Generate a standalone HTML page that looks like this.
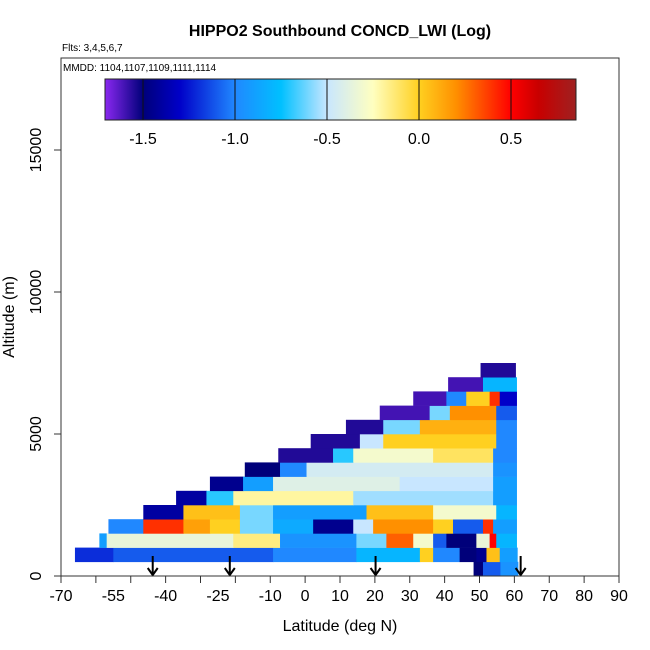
<!DOCTYPE html>
<html><head><meta charset="utf-8"><style>
body{margin:0;background:#fff;}
svg{display:block;font-family:"Liberation Sans",sans-serif;}
</style></head><body>
<svg id="chart" width="650" height="650" viewBox="0 0 650 650">
<defs>
<linearGradient id="cbgrad" x1="0" x2="1" y1="0" y2="0"></linearGradient>
</defs>
<text x="340" y="36" text-anchor="middle" font-size="16" font-weight="bold">HIPPO2 Southbound CONCD_LWI (Log)</text>
<text x="62" y="51" font-size="10">Flts: 3,4,5,6,7</text>
<g id="plot"></g>
<rect x="61" y="58" width="558" height="518" fill="none" stroke="#333" stroke-width="1"/>
<text x="63" y="71" font-size="10">MMDD: 1104,1107,1109,1111,1114</text>
<g id="cbar"></g>
<g id="axes"></g>
<text x="340" y="631" text-anchor="middle" font-size="16">Latitude (deg N)</text>
<text transform="translate(14,317) rotate(-90)" text-anchor="middle" font-size="16">Altitude (m)</text>
</svg>
<script>
// ---- data ----
const altBottoms = [0,500,1000,1500,2000,2500,3000,3500,4000,4500,5000,5500,6000,6500,7000];
const rowSegments = [
 [[48.3,51,-1.5],[51,56,-1.1],[56,61,-0.95]],
 [[-66,-55,-1.2],[-55,-9.2,-1.1],[-9.2,14.7,-1.0],[14.7,32.9,-0.8],[32.9,36.7,0.0],[36.7,44.3,-1.0],[44.3,49.1,-1.5],[49.1,52,-1.45],[52,55.8,0.05],[55.8,60.8,-0.9]],
 [[-59,-56.9,-0.9],[-56.9,-20.6,-0.35],[-20.6,-7.2,-0.15],[-7.2,14.7,-0.95],[14.7,23.3,-0.6],[23.3,31,0.3],[31,36.7,-0.3],[36.7,40.5,-1.1],[40.5,49.1,-1.5],[49.1,52.9,-0.35],[52.9,54.8,0.5],[54.8,60.6,-0.8]],
 [[-56.4,-46.4,-1.0],[-46.4,-34.9,0.4],[-34.9,-27.3,0.15],[-27.3,-18.7,0.0],[-18.7,-9.2,-0.6],[-9.2,2.3,-0.85],[2.3,13.8,-1.45],[13.8,19.5,-0.5],[19.5,36.7,0.2],[36.7,42.4,0.0],[42.4,51,-1.1],[51,53.9,0.4],[53.9,60.6,-0.9]],
 [[-46.4,-34.9,-1.4],[-34.9,-18.7,0.05],[-18.7,-9.2,-0.6],[-9.2,17.6,-0.9],[17.6,36.7,0.05],[36.7,54.8,-0.3],[54.8,60.6,-0.8]],
 [[-37,-28.3,-1.4],[-28.3,-20.6,-0.7],[-20.6,13.8,-0.2],[13.8,53.9,-0.55],[53.9,60.6,-0.9]],
 [[-27.3,-17.8,-1.45],[-17.8,-9.2,-0.9],[-9.2,27.1,-0.4],[27.1,53.9,-0.5],[53.9,60.6,-0.9]],
 [[-17.3,-7.2,-1.5],[-7.2,0.4,-1.0],[0.4,53.9,-0.45],[53.9,60.6,-0.95]],
 [[-7.7,8.0,-1.55],[8.0,13.8,-0.7],[13.8,36.7,-0.3],[36.7,53.9,-0.1],[53.9,60.6,-1.0]],
 [[1.6,15.7,-1.55],[15.7,22.4,-0.5],[22.4,54.8,0.0],[54.8,60.6,-1.0]],
 [[11.7,22.4,-1.55],[22.4,32.9,-0.6],[32.9,54.8,0.1],[54.8,60.6,-1.0]],
 [[21.4,35.7,-1.6],[35.7,41.5,-0.6],[41.5,54.8,0.2],[54.8,60.6,-1.1]],
 [[31,40.5,-1.6],[40.5,46.2,-1.0],[46.2,52.9,0.0],[52.9,55.8,0.4],[55.8,60.6,-1.3]],
 [[41,51,-1.6],[51,60.6,-0.8]],
 [[50.3,60.3,-1.55]]
];
const arrowLats = [-43.7,-21.6,20.2,61.8];
const xTickLabels = [-70,-55,-40,-25,-10,0,10,20,30,40,50,60,70,80,90];
const xMinorTicks = [-70,-60,-50,-40,-30,-20,-10,0,10,20,30,40,50,60,70,80,90];
const yTicks = [0,5000,10000,15000];
const cbTicks = [-1.5,-1.0,-0.5,0.0,0.5];
const cbStopVals = [-1.707,-1.5,-1.3,-1.0,-0.75,-0.5,-0.25,0.0,0.2,0.5,0.65,0.848];
const cbStopCols = ['#8a28f0','#00007a','#0000c8','#2088ff','#00c0ff','#c8e6ff','#ffffc0','#ffd020','#ff9000','#ff0000','#c80000','#a02020'];
// ---- scales ----
const X = v => 61 + (v + 70) * 558 / 160;
const Y = v => 576 - v * 518 / 18240;
const CB = v => 143 + (v + 1.5) * 184;
function hex(c){return [parseInt(c.slice(1,3),16),parseInt(c.slice(3,5),16),parseInt(c.slice(5,7),16)];}
function color(v){
  if(v<=cbStopVals[0]) return cbStopCols[0];
  for(let i=1;i<cbStopVals.length;i++){
    if(v<=cbStopVals[i]){
      const t=(v-cbStopVals[i-1])/(cbStopVals[i]-cbStopVals[i-1]);
      const a=hex(cbStopCols[i-1]),b=hex(cbStopCols[i]);
      return 'rgb('+a.map((x,k)=>Math.round(x+(b[k]-x)*t)).join(',')+')';
    }
  }
  return cbStopCols[cbStopCols.length-1];
}
const NS='http://www.w3.org/2000/svg';
function mk(tag,attrs,parent){const e=document.createElementNS(NS,tag);for(const k in attrs)e.setAttribute(k,attrs[k]);parent.appendChild(e);return e;}
const plot=document.getElementById('plot');
rowSegments.forEach((segs,r)=>{
  const y0=Y(altBottoms[r]+500), y1=Y(altBottoms[r]);
  segs.forEach(s=>{
    const el=mk('rect',{x:X(s[0]),y:y0,width:X(s[1])-X(s[0])+0.5,height:y1-y0+0.3,fill:color(s[2])},plot);
    
    
  });
});
arrowLats.forEach(l=>{
  const g=mk('g',{stroke:'#000','stroke-width':2,fill:'none'},plot);
  
  
  mk('line',{x1:X(l),y1:556,x2:X(l),y2:575},g);
  mk('polyline',{points:(X(l)-5)+',568 '+X(l)+',575 '+(X(l)+5)+',568'},g);
});
// colorbar
const grad=document.getElementById('cbgrad');
cbStopVals.forEach((v,i)=>{mk('stop',{offset:((CB(v)-105)/471*100)+'%','stop-color':cbStopCols[i]},grad);});
const cb=document.getElementById('cbar');
const cbr=mk('rect',{x:105,y:79,width:471,height:41,fill:'url(#cbgrad)',stroke:'#222','stroke-width':1},cb);


cbTicks.forEach(t=>{
  mk('line',{x1:CB(t),y1:79,x2:CB(t),y2:120,stroke:'#111','stroke-width':1},cb);
  const tx=mk('text',{x:CB(t),y:144,'text-anchor':'middle','font-size':16},cb);
  tx.textContent=t.toFixed(1);
  
  
});
// axes
const ax=document.getElementById('axes');
xMinorTicks.forEach(t=>{mk('line',{x1:X(t),y1:576,x2:X(t),y2:583,stroke:'#333'},ax);});
xTickLabels.forEach(t=>{
  const tx=mk('text',{x:X(t),y:601,'text-anchor':'middle','font-size':16},ax);
  tx.textContent=t;
  
  
});
yTicks.forEach(t=>{
  mk('line',{x1:54,y1:Y(t),x2:61,y2:Y(t),stroke:'#333'},ax);
  const tx=mk('text',{transform:'translate(41,'+Y(t)+') rotate(-90)','text-anchor':'middle','font-size':16},ax);
  tx.textContent=t;
  
  
});
</script>
</body></html>
